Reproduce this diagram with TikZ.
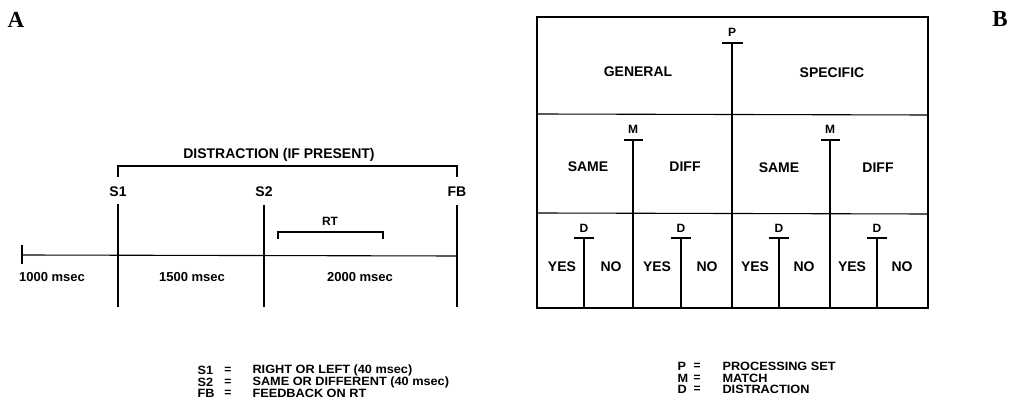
\documentclass[tikz,border=0pt]{standalone}
\usepackage{fontspec}
\setmainfont{Liberation Sans}
\newfontfamily\panelfont{Liberation Serif}
\newfontfamily\keyfont[FakeStretch=1.06]{Liberation Sans}

\begin{document}
\begin{tikzpicture}[x=1pt,y=-1pt,line width=1.1pt,
	lbl/.style={font=\bfseries\fontsize{14}{16}\selectfont,inner sep=0pt},
	tiny/.style={font=\bfseries\fontsize{13}{15}\selectfont,inner sep=0pt},
	letter/.style={font=\bfseries\fontsize{12}{14}\selectfont,inner sep=0pt},
	key/.style={font=\keyfont\bfseries\fontsize{12}{14}\selectfont,inner sep=0pt,anchor=west},
	panel/.style={font=\panelfont\bfseries\fontsize{23}{23}\selectfont,inner sep=0pt}]
\useasboundingbox (0,0) rectangle (1012,411);
%
	\node[panel] (pana) at (16,20) {A};
	\node[panel] (panb) at (1000,19) {B};
%
% time line
	\draw (22,245) -- (22,264);
	\draw (22,255) -- (457,256);
	\draw (118,204) -- (118,307);
	\draw (264,205) -- (264,307);
	\draw (457,205) -- (457,307);
	\draw (118,177) -- (118,166) -- (457,166) -- (457,177);
	\draw (278,239) -- (278,232) -- (383,232) -- (383,239);
%
	\node[lbl] (distr) at (279,155) {DISTRACTION (IF PRESENT)};
	\node[lbl] (sone) at (118,192) {S1};
	\node[lbl] (stwo) at (264,192) {S2};
	\node[lbl] (fb) at (457,192) {FB};
	\node[letter] (rt) at (330,221) {RT};
	\node[tiny] (tone) at (52,277) {1000 msec};
	\node[tiny] (ttwo) at (192,277) {1500 msec};
	\node[tiny] (tthree) at (360,277) {2000 msec};
%
	\node[key] (kone) at (197,370.5) {S1};
	\node[key] (ktwo) at (197,382) {S2};
	\node[key] (kthree) at (197,393.5) {FB};
	\foreach \y/\i in {370.5/1,382/2,393.5/3} \node[letter] (eqa\i) at (228,\y) {=};
	\node[key] (kaone) at (252,370.5) {RIGHT OR LEFT (40 msec)};
	\node[key] (katwo) at (252,382) {SAME OR DIFFERENT (40 msec)};
	\node[key] (kathree) at (252,393.5) {FEEDBACK ON RT};
%
% design table
	\draw (537,17) rectangle (928,308);
	\draw (537,114) -- (928,115);
	\draw (537,213) -- (928,214);
	\draw (722,43) -- (743,43);
	\draw (732,43) -- (732,308);
	\foreach \x in {633,830} {
		\draw (\x-9,140) -- (\x+10,140);
		\draw (\x,140) -- (\x,308);
		\node[letter] (m\x) at (\x,129) {M};
	}
	\foreach \x in {584,681,779,877} {
		\draw (\x-10,238) -- (\x+10,238);
		\draw (\x,238) -- (\x,308);
		\node[letter] (d\x) at (\x,228) {D};
	}
%
	\node[letter] (p) at (732,32) {P};
	\node[lbl] (gen) at (638,72) {GENERAL};
	\node[lbl] (spec) at (832,73) {SPECIFIC};
	\node[lbl] (sameg) at (588,167) {SAME};
	\node[lbl] (diffg) at (685,167) {DIFF};
	\node[lbl] (sames) at (779,168) {SAME};
	\node[lbl] (diffs) at (878,168) {DIFF};
	\foreach \x/\n in {562/YES,611/NO,657/YES,707/NO,755/YES,804/NO,852/YES,902/NO}
		\node[lbl] (ans\x) at (\x,267) {\n};
%
	\node[key] (kp) at (677,366.5) {P};
	\node[key] (km) at (677,378) {M};
	\node[key] (kd) at (677,389.5) {D};
	\foreach \y/\i in {366.5/1,378/2,389.5/3} \node[letter] (eqb\i) at (697,\y) {=};
	\node[key] (kpt) at (722,366.5) {PROCESSING SET};
	\node[key] (kmt) at (722,378) {MATCH};
	\node[key] (kdt) at (722,389.5) {DISTRACTION};
\end{tikzpicture}
\end{document}
